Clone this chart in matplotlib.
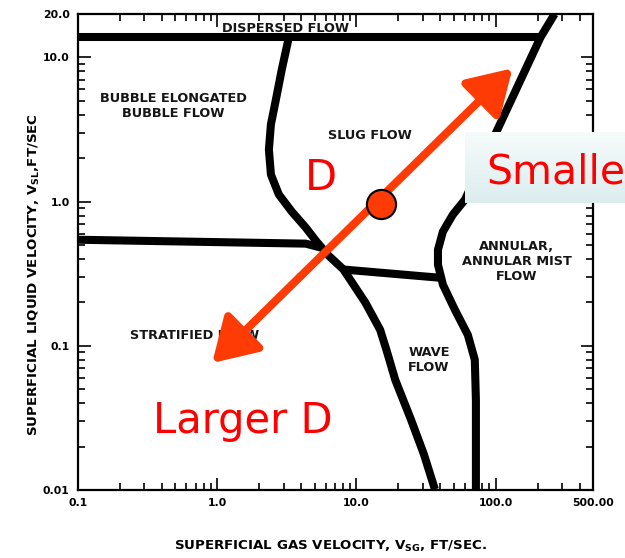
import numpy as np
import matplotlib
matplotlib.use("Agg")
import matplotlib.pyplot as plt
from matplotlib.ticker import FixedLocator, FixedFormatter, LogLocator, NullFormatter
from matplotlib.patches import FancyArrowPatch
from matplotlib.colors import LinearSegmentedColormap

# ---- flow-regime boundaries (gas velocity ft/s, liquid velocity ft/s) ----
dispersed_vsg = [0.1, 210.0]
dispersed_vsl = [13.8, 13.8]

slug_bubble_vsg = [3.27, 2.91, 2.64, 2.43, 2.35, 2.43, 2.77, 3.43, 4.33, 5.18,
                   6.31, 8.07, 11.6, 14.8, 16.4, 19.0, 24.7, 30.5, 36.6]
slug_bubble_vsl = [13.8, 8.26, 5.11, 3.43, 2.30, 1.54, 1.12, 0.853, 0.659, 0.527,
                   0.422, 0.338, 0.199, 0.129, 0.094, 0.058, 0.0306, 0.0177, 0.0101]

stratified_vsg = [0.1, 4.33, 5.53]
stratified_vsl = [0.544, 0.511, 0.48]

wave_top_vsg = [8.07, 40.5]
wave_top_vsl = [0.338, 0.296]

annular_vsg = [265.0, 210.0, 103.0, 60.1, 49.3, 41.8, 38.5, 38.5, 41.8, 50.9,
               63.1, 70.8, 72.1, 72.1]
annular_vsl = [20.0, 13.8, 3.16, 1.03, 0.813, 0.62, 0.464, 0.365, 0.265, 0.178,
               0.119, 0.080, 0.042, 0.01]

# ---- regime names ----
regime_names = ["DISPERSED FLOW", "BUBBLE ELONGATED\nBUBBLE FLOW", "SLUG FLOW",
                "ANNULAR,\nANNULAR MIST\nFLOW", "STRATIFIED FLOW", "WAVE\nFLOW"]
regime_vsg = [3.11, 0.485, 12.4, 141.0, 0.685, 33.2]
regime_vsl = [15.9, 4.57, 2.87, 0.383, 0.117, 0.080]

# ---- operating point and diameter arrow ----
point_vsg, point_vsl = 15.0, 0.97
arrow_large_d = (0.92, 0.076)
arrow_small_d = (132.0, 8.4)

# ---- axes ticks ----
x_ticks = [0.1, 1.0, 10.0, 100.0, 500.0]
x_tick_labels = ["0.1", "1.0", "10.0", "100.0", "500.00"]
y_ticks = [0.01, 0.1, 1.0, 10.0, 20.0]
y_tick_labels = ["0.01", "0.1", "1.0", "10.0", "20.0"]

W, H = 625, 558
fig = plt.figure(figsize=(W / 100, H / 100), dpi=100)
ax = fig.add_axes([78 / W, 1 - 490 / H, (593 - 78) / W, (490 - 14) / H])
ax.set_xscale("log")
ax.set_yscale("log")
ax.set_xlim(0.1, 500)
ax.set_ylim(0.01, 20)

line_kw = dict(color="black", lw=5.8, solid_joinstyle="round",
               solid_capstyle="butt", zorder=2)
ax.plot(dispersed_vsg, dispersed_vsl, **line_kw)
ax.plot(slug_bubble_vsg, slug_bubble_vsl, **line_kw)
ax.plot(stratified_vsg, stratified_vsl, **line_kw)
ax.plot(wave_top_vsg, wave_top_vsl, **line_kw)
ax.plot(annular_vsg, annular_vsl, **line_kw)

for name, gx, ly in zip(regime_names, regime_vsg, regime_vsl):
    ax.text(gx, ly, name, ha="center", va="center", fontsize=9.3,
            fontweight="bold", family="DejaVu Sans", linespacing=1.2,
            color="#151515", zorder=3)

for side in ax.spines.values():
    side.set_linewidth(1.6)

ax.xaxis.set_major_locator(FixedLocator(x_ticks))
ax.xaxis.set_major_formatter(FixedFormatter(x_tick_labels))
ax.yaxis.set_major_locator(FixedLocator(y_ticks))
ax.yaxis.set_major_formatter(FixedFormatter(y_tick_labels))
ax.xaxis.set_minor_locator(LogLocator(base=10, subs=np.arange(2, 10)))
ax.yaxis.set_minor_locator(LogLocator(base=10, subs=np.arange(2, 10)))
ax.xaxis.set_minor_formatter(NullFormatter())
ax.yaxis.set_minor_formatter(NullFormatter())
ax.tick_params(which="both", direction="in", top=True, right=True, width=1.2)
ax.tick_params(which="major", length=9, labelsize=7.8, pad=6)
ax.tick_params(which="minor", length=5)
for lab in ax.get_xticklabels() + ax.get_yticklabels():
    lab.set_fontweight("bold")

ax.set_xlabel("SUPERFICIAL GAS VELOCITY, $\\mathbf{V_{SG}}$, FT/SEC.",
              fontsize=9.6, fontweight="bold", va="center")
ax.set_ylabel("SUPERFICIAL LIQUID VELOCITY, $\\mathbf{V_{SL}}$,FT/SEC",
              fontsize=9.6, fontweight="bold", va="center")
ax.xaxis.set_label_coords((330 - 78) / 515, (490 - 546) / 476)
ax.yaxis.set_label_coords((34 - 78) / 515, (490 - 275) / 476)

red = "#fe3a05"
arrow = FancyArrowPatch(arrow_large_d, arrow_small_d, arrowstyle="<|-|>",
                        mutation_scale=25, color=red, lw=5.8,
                        shrinkA=0, shrinkB=0, zorder=5)
arrow.set_arrowstyle("<|-|>", head_length=1.05, head_width=0.64)
ax.add_patch(arrow)
ax.plot([point_vsg], [point_vsl], "o", ms=21, mfc=red, mec="black",
        mew=1.5, zorder=6)

# annotation labels
fig.text(305 / W, 1 - 190 / H, "D", color="red", fontsize=30,
         ha="left", va="baseline")
fig.text(153 / W, 1 - 433 / H, "Larger D", color="red", fontsize=30,
         ha="left", va="baseline")

box = fig.add_axes([465 / W, 1 - 203 / H, 160 / W, 71 / H], zorder=5)
grad = np.linspace(0, 1, 64).reshape(-1, 1)
cmap = LinearSegmentedColormap.from_list("panel", ["#f6fbfb", "#dcedee"])
box.imshow(grad, aspect="auto", cmap=cmap, extent=[0, 1, 1, 0])
box.set_axis_off()
fig.text(486 / W, 1 - 184 / H, "Smalle", color="red", fontsize=29.5,
         ha="left", va="baseline", zorder=6)

fig.savefig("out.png", dpi=100)
